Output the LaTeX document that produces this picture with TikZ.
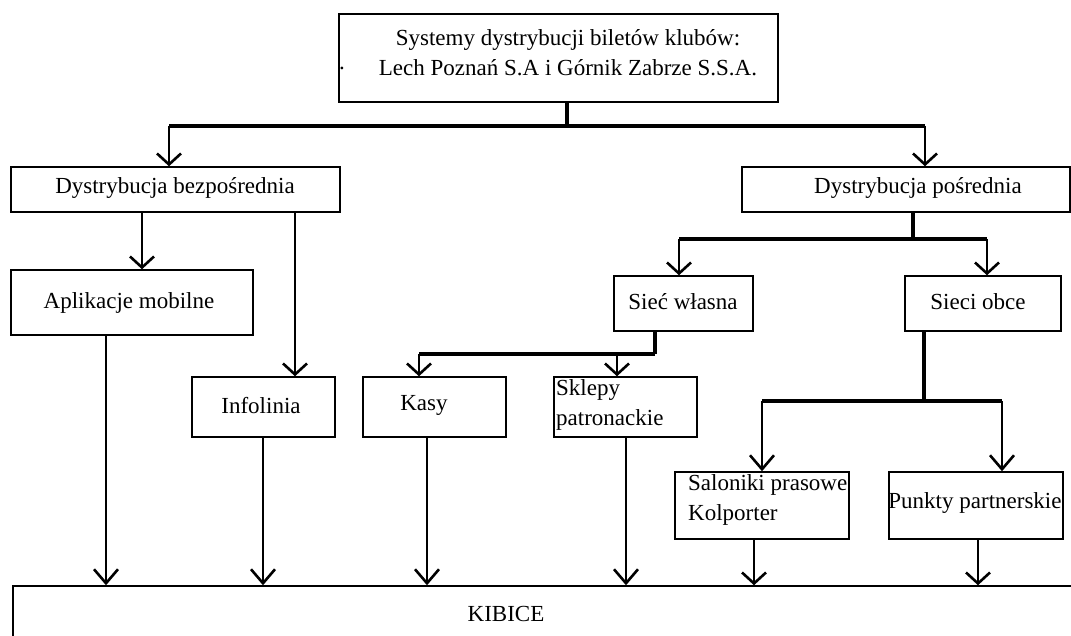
\documentclass[tikz,border=0pt]{standalone}
\usepackage{fontspec}
\setmainfont{Liberation Serif}
\usetikzlibrary{arrows.meta}
\begin{document}
\begin{tikzpicture}[x=1pt,y=-1pt,
  box/.style={draw, line width=1.5pt, inner sep=0pt, rectangle},
  txt/.style={inner sep=0pt, font=\fontsize{23}{30}\selectfont},
  arr/.style={line width=2.2pt, -{Straight Barb[length=11pt,width=24pt,line width=2.6pt]}},
  arrb/.style={line width=2.2pt, -{Straight Barb[length=14pt,width=24pt,line width=2.6pt]}},
  thk/.style={line width=4pt},
  stem/.style={line width=3.5pt},
]
\useasboundingbox (0,0) rectangle (1071,635);
\clip (0,0) rectangle (1071,635);
\fill[white] (0,0) rectangle (1071,635);

% boxes
\node[box, minimum width=439pt, minimum height=88pt] (top) at (558.5,58) {};
\node[box, minimum width=329pt, minimum height=45pt] (dbez) at (175.5,189.5) {};
\node[box, minimum width=328pt, minimum height=45pt] (dpos) at (906,189.5) {};
\node[box, minimum width=242pt, minimum height=65pt] (aplik) at (132,302.5) {};
\node[box, minimum width=143pt, minimum height=60pt] (info) at (263.5,407) {};
\node[box, minimum width=143pt, minimum height=60pt] (kasy) at (434.5,407) {};
\node[box, minimum width=143pt, minimum height=60pt] (sklepy) at (625.5,407) {};
\node[box, minimum width=139pt, minimum height=55pt] (siecw) at (683.5,303.5) {};
\node[box, minimum width=156pt, minimum height=55pt] (sieco) at (983,303.5) {};
\node[box, minimum width=174pt, minimum height=67pt] (salon) at (762,505.5) {};
\node[box, minimum width=174pt, minimum height=67pt] (punkty) at (976,505.5) {};
\node[box, minimum width=1080pt, minimum height=80pt] (kibice) at (553,626) {};

% texts
\node[txt, align=center] (topt) at (568,53) {Systemy dystrybucji biletów klubów:\\Lech Poznań S.A i Górnik Zabrze S.S.A.};
\node[txt] (dot) at (342,68) {.};
\node[txt] (dbezt) at (175,188) {Dystrybucja bezpośrednia};
\node[txt] (dpost) at (918,188) {Dystrybucja pośrednia};
\node[txt] (aplikt) at (129,303) {Aplikacje mobilne};
\node[txt] (infot) at (261,406) {Infolinia};
\node[txt] (kasyt) at (424,405) {Kasy};
\node[txt, align=left, anchor=west] (sklepyt) at (556,405) {Sklepy\\patronackie};
\node[txt] (siecwt) at (683,302) {Sieć własna};
\node[txt] (siecot) at (978,302) {Sieci obce};
\node[txt, align=left, anchor=west] (salont) at (688,500) {Saloniki prasowe\\Kolporter};
\node[txt] (punktyt) at (975,503) {Punkty partnerskie};
\node[txt] (kibicet) at (506,614) {KIBICE};

% top branching
\coordinate (tj) at (567,126);
\coordinate (hl) at (169,126);
\coordinate (hr) at (925,126);
\draw[stem] (tj |- top.south) -- (tj);
\draw[thk] (hl) -- (hr);
\draw[arr] (hl) -- (hl |- dbez.north);
\draw[arr] (hr) -- (hr |- dpos.north);

% direct distribution
\draw[arr] ([xshift=10pt]aplik.north |- dbez.south) -- ([xshift=10pt]aplik.north);
\draw[arr] ([xshift=31.5pt]info.north |- dbez.south) -- ([xshift=31.5pt]info.north);

% indirect distribution
\coordinate (pj) at (913,239);
\coordinate (pl) at (679,239);
\coordinate (pr) at (987,239);
\draw[stem] (pj |- dpos.south) -- (pj);
\draw[thk] (pl) -- (pr);
\draw[arr] (pl) -- (pl |- siecw.north);
\draw[arr] (pr) -- (pr |- sieco.north);

% own network
\coordinate (wj) at (655,354);
\coordinate (wl) at (419,354);
\coordinate (wr) at (617,354);
\draw[stem] (wj |- siecw.south) -- (wj);
\draw[thk] (wl) -- (wj);
\draw[arr] (wl) -- (wl |- kasy.north);
\draw[arr] (wr) -- (wr |- sklepy.north);

% foreign networks
\coordinate (oj) at (924,401);
\coordinate (ol) at (762,401);
\coordinate (or) at (1002,401);
\draw[thk] (oj |- sieco.south) -- (oj);
\draw[thk] (ol) -- (or);
\draw[arrb] (ol) -- (ol |- salon.north);
\draw[arrb] (or) -- (or |- punkty.north);

% to KIBICE
\draw[arrb] ([xshift=-26pt]aplik.south) -- ([xshift=-26pt]aplik.south |- kibice.north);
\draw[arrb] ([xshift=-0.5pt]info.south) -- ([xshift=-0.5pt]info.south |- kibice.north);
\draw[arrb] ([xshift=-7.5pt]kasy.south) -- ([xshift=-7.5pt]kasy.south |- kibice.north);
\draw[arrb] ([xshift=0.5pt]sklepy.south) -- ([xshift=0.5pt]sklepy.south |- kibice.north);
\draw[arr] ([xshift=-8pt]salon.south) -- ([xshift=-8pt]salon.south |- kibice.north);
\draw[arr] ([xshift=2pt]punkty.south) -- ([xshift=2pt]punkty.south |- kibice.north);
\end{tikzpicture}
\end{document}
